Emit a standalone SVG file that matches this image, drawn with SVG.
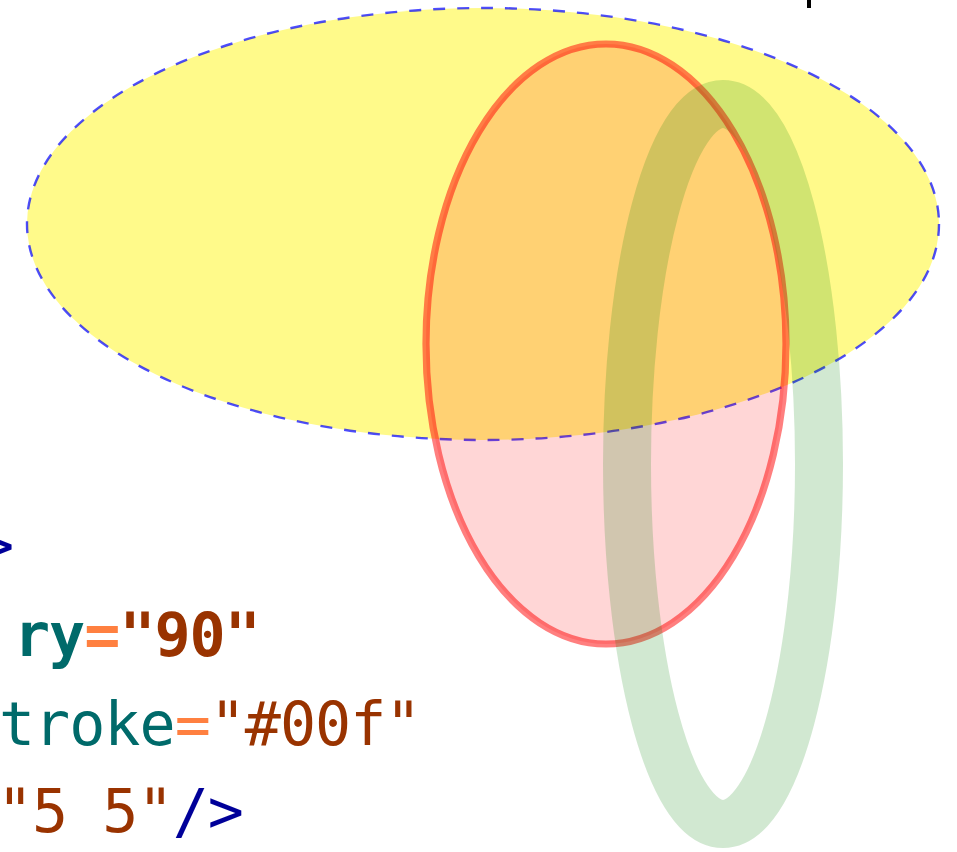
<svg xmlns="http://www.w3.org/2000/svg" width="957" height="852" viewBox="0 0 957 852">
<style>
.code{font-family:"DejaVu Sans Mono","Liberation Mono",monospace;font-size:60px;letter-spacing:-1px}
.b{font-weight:bold}
.attr{fill:#006a6a}
.eq{fill:#ff8040}
.val{fill:#993300}
.tag{fill:#000099}
</style>
<rect width="957" height="852" fill="#ffffff"/>
<g id="code">
<text class="code tag" x="-22" y="566">&gt;</text>
<text class="code b" x="14" y="656"><tspan class="attr">ry</tspan><tspan class="eq">=</tspan><tspan class="val">"90"</tspan></text>
<text class="code" x="-1" y="745"><tspan class="attr">troke</tspan><tspan class="eq">=</tspan><tspan class="val">"#00f"</tspan></text>
<text class="code" x="-3" y="832" xml:space="preserve"><tspan class="val">"5 5"</tspan><tspan class="tag">/&gt;</tspan></text>
<rect x="807" y="0" width="4" height="8" fill="#000000"/>
</g>
<g id="yellow-ellipse">
<ellipse cx="483" cy="224" rx="456" ry="216" fill="#fffa8a" stroke="#0000ff" stroke-opacity="0.7" stroke-width="2.4" stroke-dasharray="12 12"/>
</g>
<g id="red-ellipse">
<ellipse cx="606" cy="344" rx="180" ry="300" fill="#ff0000" fill-opacity="0.16" stroke="#ff0000" stroke-opacity="0.5" stroke-width="7.2"/>
</g>
<g id="green-ellipse">
<ellipse cx="723" cy="464" rx="96" ry="360" fill="none" stroke="#008000" stroke-opacity="0.18" stroke-width="48"/>
</g>
</svg>
